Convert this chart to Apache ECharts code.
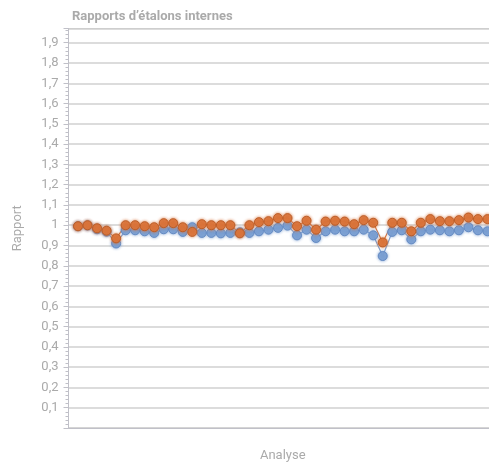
<!DOCTYPE html>
<html>
<head>
<meta charset="utf-8">
<script src="https://cdn.jsdelivr.net/npm/echarts@6/dist/echarts.min.js"></script>
<style>
html,body{margin:0;padding:0;background:#fff;overflow:hidden;}
#c{width:497px;height:467px;}
</style>
</head>
<body>
<div id="c"></div>
<script>
const titleText = 'Rapports d\u2019étalons internes';
const xName = 'Analyse';
const yName = 'Rapport';
const analyses = [1,2,3,4,5,6,7,8,9,10,11,12,13,14,15,16,17,18,19,20,21,22,23,24,25,26,27,28,29,30,31,32,33,34,35,36,37,38,39,40,41,42,43,44];
const seriesBlue = [0.995,0.998,0.98,0.968,0.91,0.975,0.975,0.97,0.962,0.98,0.98,0.967,0.99,0.962,0.962,0.96,0.962,0.965,0.962,0.97,0.978,0.987,0.998,0.95,0.978,0.937,0.97,0.978,0.97,0.97,0.978,0.95,0.848,0.967,0.975,0.93,0.97,0.978,0.975,0.97,0.975,0.99,0.975,0.97];
const seriesOrange = [0.995,1.0,0.985,0.973,0.935,1.0,1.0,0.995,0.99,1.01,1.01,0.99,0.967,1.005,1.0,1.0,1.0,0.96,1.0,1.015,1.02,1.035,1.035,0.995,1.022,0.978,1.018,1.022,1.018,1.005,1.025,1.012,0.915,1.012,1.012,0.97,1.012,1.03,1.02,1.02,1.025,1.038,1.03,1.03];

const chart = echarts.init(document.getElementById('c'));
const txt = '#aaaaaa';
function mk(vals){ return analyses.map((a,i)=>[a, vals[i]]); }
function ser(vals, color, border){
  return {
    type:'line', data: mk(vals), symbol:'circle', symbolSize:9,
    lineStyle:{color:color, width:1.2},
    itemStyle:{color:color, borderColor:border, borderWidth:1, shadowBlur:3, shadowColor:color, opacity:0.9},
    emphasis:{disabled:true}, animation:false
  };
}
chart.setOption({
  animation:false,
  title:{text:titleText, left:67, top:5, textStyle:{fontFamily:'Roboto', fontWeight:'bold', fontSize:13, color:'#aaaaaa'}},
  grid:{left:68.5, top:28.5, right:0, bottom:24.5, show:true, borderColor:'#c8c8c8', borderWidth:1},
  xAxis:{type:'value', min:0, max:45, name:xName, nameLocation:'middle', nameGap:21,
    nameTextStyle:{fontFamily:'Roboto', fontSize:13, color:txt},
    axisLine:{show:true, lineStyle:{color:'#c0c0c8'}}, axisTick:{show:false}, axisLabel:{show:false}, splitLine:{show:false}},
  yAxis:{type:'value', min:0, max:1.97, interval:0.1, name:yName, nameLocation:'middle', nameGap:44,
    nameTextStyle:{fontFamily:'Roboto', fontSize:13, color:txt},
    axisLine:{show:true, lineStyle:{color:'#c0c0c8'}},
    axisTick:{show:true, length:5, lineStyle:{color:'#c0c0c8'}},
    minorTick:{show:true, splitNumber:5, length:3, lineStyle:{color:'#c0c0c8'}},
    axisLabel:{margin:10, fontFamily:'Roboto', fontSize:13, color:txt, showMaxLabel:false,
      formatter:function(v){ if(v===0) return ''; const r=Math.round(v*10)/10; if(Math.abs(r-v)>1e-6) return ''; return String(r).replace('.',','); }},
    splitLine:{show:true, lineStyle:{color:'#d0d0d0', width:1.5}}},
  series:[ ser(seriesBlue,'#7a9fd2','#5f86c0'), ser(seriesOrange,'#d9733a','#b85a25') ]
});
</script>
</body>
</html>
